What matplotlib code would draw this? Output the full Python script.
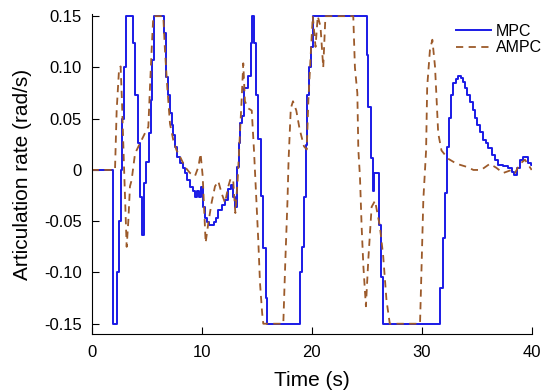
import numpy as np
import matplotlib
matplotlib.use('Agg')
import matplotlib.pyplot as plt

plt.rcParams['font.family'] = ['Liberation Sans', 'DejaVu Sans']

# MPC articulation rate (step signal), time in s, rate in rad/s
mpc_t = [0, 1.97, 2.27, 2.45, 2.63, 2.78, 2.90, 3.12, 3.78, 3.94, 4.18, 4.39, 4.55,
         4.73, 4.94, 5.18, 5.36, 5.48, 5.69, 6.57, 6.75, 6.96, 7.12, 7.27, 7.42,
         7.60, 7.78, 8.03, 8.27, 8.48, 8.69, 8.94, 9.18, 9.39, 9.55, 9.73, 9.91,
         10.09, 10.27, 10.51, 10.69, 11.12, 11.30, 11.51, 11.82, 12.12, 12.42,
         12.64, 12.87, 13.03, 13.2, 13.35, 13.5, 13.7, 13.85, 14.2, 14.45, 14.6,
         14.75, 14.93, 15.15, 15.37, 15.6, 15.85, 15.97, 18.94, 19.1, 19.3, 19.48,
         19.6, 19.8, 19.9, 20.1, 25.0, 25.15, 25.35, 25.55, 25.7, 26.1, 26.3,
         26.5, 31.7, 31.9, 32.1, 32.3, 32.5, 32.66, 32.87, 33.09, 33.33, 33.57,
         33.72, 33.93, 34.15, 34.39, 34.63, 34.85, 35.06, 35.3, 35.54, 35.82,
         36.06, 36.36, 36.67, 36.97, 37.42, 37.88, 38.18, 38.39, 38.63, 38.94,
         39.18, 39.48, 39.7, 39.9, 40.0]
mpc_v = [0, -0.15, -0.10, -0.05, 0.0, 0.05, 0.10, 0.15, 0.124, 0.073, 0.026, -0.026,
         -0.063, -0.013, 0.008, 0.036, 0.068, 0.107, 0.15, 0.134, 0.091, 0.073,
         0.056, 0.044, 0.034, 0.022, 0.013, 0.007, 0.002, -0.003, -0.010, -0.017,
         -0.021, -0.026, -0.021, -0.026, -0.017, -0.036, -0.047, -0.051, -0.054,
         -0.051, -0.047, -0.039, -0.034, -0.029, -0.019, -0.015, -0.026, -0.036,
         0.003, 0.026, 0.046, 0.053, 0.08, 0.092, 0.124, 0.15, 0.124, 0.073,
         0.03, -0.025, -0.076, -0.125, -0.15, -0.10, -0.075, -0.026, 0.024,
         0.073, 0.10, 0.12, 0.15, 0.112, 0.061, 0.012, -0.021, -0.003, -0.054,
         -0.104, -0.15, -0.115, -0.066, -0.022, 0.022, 0.051, 0.073, 0.085,
         0.089, 0.092, 0.090, 0.086, 0.080, 0.073, 0.066, 0.058, 0.051, 0.044,
         0.037, 0.029, 0.026, 0.021, 0.015, 0.010, 0.005, 0.004, 0.002, -0.002,
         -0.005, 0.002, 0.010, 0.013, 0.013, 0.007, 0.005, 0.005]

# AMPC articulation rate
ampc_t = [0, 2.12, 2.27, 2.48, 2.63, 2.75, 2.94, 3.06, 3.18, 3.33, 3.48, 3.63, 3.94,
          4.39, 4.85, 5.15, 5.3, 5.45, 5.6, 6.51, 6.66, 6.87, 7.12, 7.42, 7.72,
          8.03, 8.48, 8.94, 9.39, 9.7, 9.9, 10.09, 10.24, 10.36, 10.6, 10.9, 11.21,
          11.51, 11.82, 12.12, 12.42, 12.64, 12.87, 13.06, 13.27, 13.48, 13.63,
          13.78, 13.93, 14.24, 14.55, 14.75, 15.0, 15.15, 15.3, 15.5, 15.6, 17.42,
          17.6, 17.8, 17.9, 18.1, 18.3, 18.6, 18.9, 19.3, 19.55, 19.7, 19.9, 20.1,
          20.35, 20.55, 20.8, 21.05, 21.25, 23.78, 23.93, 24.15, 24.24, 24.39,
          24.54, 24.7, 24.93, 25.15, 25.45, 25.76, 25.97, 26.2, 26.5, 26.8, 27.1,
          29.85, 30.0, 30.15, 30.4, 30.5, 30.75, 30.97, 31.21, 31.36, 31.5, 31.8,
          32.4, 33.18, 34.1, 34.7, 35.4, 36.2, 36.8, 37.4, 38.18, 38.48, 38.94,
          39.39, 40.0]
ampc_v = [0, 0, 0.058, 0.097, 0.101, 0.068, 0.003, -0.036, -0.075, -0.05, -0.016,
          -0.01, 0.016, 0.026, 0.036, 0.042, 0.081, 0.117, 0.15, 0.15, 0.117,
          0.081, 0.045, 0.029, 0.019, 0.013, 0.003, -0.003, -0.006, 0.003, 0.016,
          -0.006, -0.042, -0.071, -0.052, -0.032, -0.016, -0.011, -0.023, -0.032,
          -0.016, -0.008, -0.011, -0.042, -0.01, 0.036, 0.068, 0.104, 0.067, 0.06,
          0.058, 0.02, -0.036, -0.07, -0.11, -0.14, -0.15, -0.15, -0.09, -0.03,
          0.01, 0.06, 0.067, 0.058, 0.04, 0.023, 0.02, 0.068, 0.11, 0.15, 0.12,
          0.15, 0.14, 0.10, 0.15, 0.15, 0.10, 0.075, 0.02, -0.007, -0.055,
          -0.094, -0.133, -0.087, -0.036, -0.03, -0.042, -0.055, -0.084, -0.127,
          -0.15, -0.15, -0.09, -0.029, 0.019, 0.081, 0.117, 0.127, 0.101, 0.068,
          0.036, 0.019, 0.011, 0.006, 0.003, 0.0, 0.0, 0.006, 0.002, -0.003, 0.0,
          -0.003, 0.006, 0.01, 0.0]

fig = plt.figure(figsize=(5.5, 3.92), dpi=100)
ax = fig.add_axes([0.1667, 0.148, 0.8, 0.816])

ax.step(mpc_t, mpc_v, where='post', color='#1a1ae6', lw=1.4, label='MPC')
ax.plot(ampc_t, ampc_v, color='#9c5a2a', lw=1.3, ls=(0, (4, 3)), label='AMPC')

ax.set_xlim(0, 40)
ax.set_ylim(-0.16, 0.152)
ax.set_xticks([0, 10, 20, 30, 40])
ax.set_yticks([-0.15, -0.10, -0.05, 0, 0.05, 0.10, 0.15])
ax.set_yticklabels(['-0.15', '-0.10', '-0.05', '0', '0.05', '0.10', '0.15'])
ax.tick_params(direction='in', length=5, labelsize=12)
ax.tick_params(axis='x', pad=8)
ax.tick_params(axis='y', pad=7)
ax.spines['top'].set_visible(False)
ax.spines['right'].set_visible(False)

ax.set_xlabel('Time (s)', fontsize=15, labelpad=8)
ax.set_ylabel('Articulation rate (rad/s)', fontsize=15, labelpad=9)

ax.legend(loc='upper right', bbox_to_anchor=(1.045, 1.0), frameon=False,
          fontsize=11.5, handlelength=2.2, handletextpad=0.3, labelspacing=0.1,
          borderaxespad=0.2)

fig.savefig('out.png', dpi=100)
